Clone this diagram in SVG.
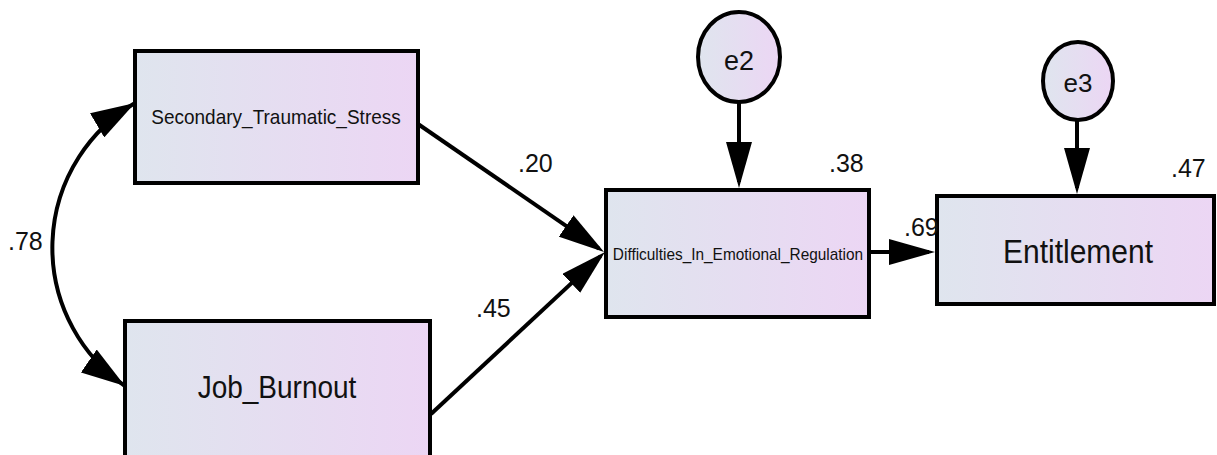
<svg xmlns="http://www.w3.org/2000/svg" width="1217" height="455" viewBox="0 0 1217 455">
<style>
.box{fill:url(#g);stroke:#000;stroke-width:4}
.lbl{font-family:"Liberation Sans",Arial,sans-serif;fill:#111;text-anchor:middle}
.num{font-family:"Liberation Sans",Arial,sans-serif;fill:#111;font-size:25px}
.ln{fill:none;stroke:#000;stroke-width:4}
</style>
<defs>
<linearGradient id="g" x1="0" y1="0" x2="1" y2="0">
<stop offset="0" stop-color="#dfe5ee"/>
<stop offset="1" stop-color="#ecd6f4"/>
</linearGradient>
<marker id="ah" markerUnits="userSpaceOnUse" markerWidth="46" markerHeight="26" refX="40" refY="13" orient="auto" viewBox="0 0 46 26">
<path d="M0,0 L46,13 L0,26 z" fill="#000"/>
</marker>
<marker id="ah2" markerUnits="userSpaceOnUse" markerWidth="44" markerHeight="28" refX="44" refY="14" orient="auto-start-reverse" viewBox="0 0 44 28">
<path d="M0,0 L44,14 L0,28 z" fill="#000"/>
</marker>
</defs>
<rect width="1217" height="455" fill="#fff"/>
<g id="connectors">
<path class="ln" d="M135,103 A168,168 0 0 0 125,386" marker-start="url(#ah2)" marker-end="url(#ah2)"/>
<path class="ln" d="M418,124 L599.1,248.6" marker-end="url(#ah)"/>
<path class="ln" d="M431,414 L600.6,256.1" marker-end="url(#ah)"/>
<path class="ln" d="M739,102 L739,182" marker-end="url(#ah)"/>
<path class="ln" d="M1077,120 L1077,188" marker-end="url(#ah)"/>
<path class="ln" d="M869,252 L929,252" marker-end="url(#ah)"/>
</g>
<g id="node-sts">
<rect class="box" x="135" y="51" width="283" height="132"/>
<text class="lbl" font-size="19" transform="translate(276,124) scale(1,1.1)">Secondary_Traumatic_Stress</text>
</g>
<g id="node-jb">
<rect class="box" x="125" y="321" width="305" height="150"/>
<text class="lbl" font-size="28" transform="translate(277,398) scale(1,1.1)">Job_Burnout</text>
</g>
<g id="node-der">
<rect class="box" x="606" y="190" width="263" height="127"/>
<text class="lbl" font-size="15.4" transform="translate(738,260) scale(1,1.1)">Difficulties_In_Emotional_Regulation</text>
</g>
<g id="node-ent">
<rect class="box" x="937" y="196" width="277" height="108"/>
<text class="lbl" font-size="30" transform="translate(1078,263) scale(1,1.1)">Entitlement</text>
</g>
<g id="node-e2">
<ellipse class="box" cx="739" cy="57" rx="41" ry="45"/>
<text class="lbl" font-size="27" x="739" y="70">e2</text>
</g>
<g id="node-e3">
<ellipse class="box" cx="1078" cy="81" rx="35" ry="39"/>
<text class="lbl" font-size="26" x="1078" y="92">e3</text>
</g>
<g id="labels">
<text class="num" x="518" y="172">.20</text>
<text class="num" x="476" y="317">.45</text>
<text class="num" x="8" y="250">.78</text>
<text class="num" x="829" y="172">.38</text>
<text class="num" x="1171" y="177">.47</text>
<text class="num" x="904" y="236">.69</text>
</g>
</svg>
